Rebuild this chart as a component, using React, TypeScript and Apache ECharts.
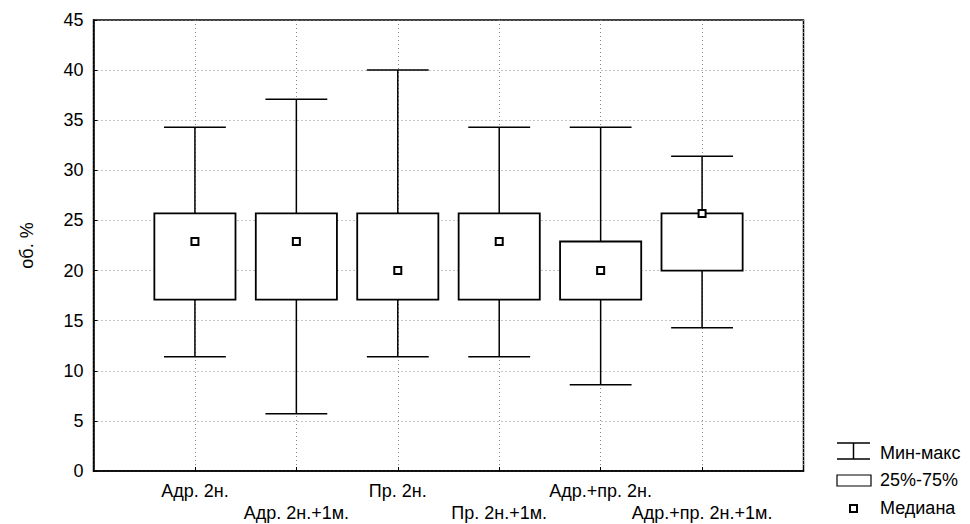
import React, { useEffect, useRef } from "react";
import * as echarts from "echarts";

const categories = [
  "Адр. 2н.",
  "Адр. 2н.+1м.",
  "Пр. 2н.",
  "Пр. 2н.+1м.",
  "Адр.+пр. 2н.",
  "Адр.+пр. 2н.+1м.",
];
const minValues = [11.4, 5.7, 11.4, 11.4, 8.6, 14.3];
const q1Values = [17.1, 17.1, 17.1, 17.1, 17.1, 20.0];
const medianValues = [22.9, 22.9, 20.0, 22.9, 20.0, 25.7];
const q3Values = [25.7, 25.7, 25.7, 25.7, 22.9, 25.7];
const maxValues = [34.3, 37.1, 40.0, 34.3, 34.3, 31.4];
const yTicks = [0, 5, 10, 15, 20, 25, 30, 35, 40, 45];
const legendLabels = ["Мин-макс", "25%-75%", "Медиана"];
const yAxisTitle = "об. %";

const FONT = "'Liberation Sans', Arial, sans-serif";

export default function App() {
  const ref = useRef<HTMLDivElement>(null);

  useEffect(() => {
    document.body.style.margin = "0";
    const chart = echarts.init(ref.current!, null, { renderer: "svg" });
    const axisCats = ["", ...categories, ""];
    const boxData = categories.map((c, i) => [
      i + 1,
      minValues[i],
      q1Values[i],
      medianValues[i],
      q3Values[i],
      maxValues[i],
    ]);
    const medData = categories.map((c, i) => [i + 1, medianValues[i]]);
    const stroke = { stroke: "#000", lineWidth: 1.5, fill: "none" };

    const lx = 837;
    const legendGraphics: any[] = [
      { type: "line", shape: { x1: lx, y1: 443, x2: lx + 33, y2: 443 }, style: stroke },
      { type: "line", shape: { x1: lx + 16.5, y1: 443, x2: lx + 16.5, y2: 459 }, style: stroke },
      { type: "line", shape: { x1: lx, y1: 459, x2: lx + 33, y2: 459 }, style: stroke },
      { type: "rect", shape: { x: lx, y: 475, width: 34, height: 11 }, style: { fill: "#fff", stroke: "#000", lineWidth: 1.2 } },
      { type: "rect", shape: { x: lx + 13, y: 505, width: 7, height: 7 }, style: { fill: "#fff", stroke: "#000", lineWidth: 2 } },
    ];
    [453, 480, 508].forEach((y, i) => {
      legendGraphics.push({
        type: "text",
        x: 880,
        y,
        style: {
          text: legendLabels[i],
          font: `18px ${FONT}`,
          fill: "#000",
          verticalAlign: "middle",
          align: "left",
        },
      });
    });

    chart.setOption({
      animation: false,
      backgroundColor: "#fff",
      grid: {
        left: 93.5,
        right: 166.5,
        top: 20,
        bottom: 51,
        show: true,
        borderColor: "#000",
        borderWidth: 1.5,
        backgroundColor: "#fff",
      },
      xAxis: {
        type: "category",
        data: axisCats,
        boundaryGap: false,
        axisLine: { lineStyle: { color: "#000", width: 1.5 } },
        axisTick: { inside: true, length: 4, lineStyle: { color: "#000" }, interval: 0 },
        splitLine: { show: true, interval: 0, lineStyle: { color: "#888", type: [1, 3], width: 1 } },
        axisLabel: {
          interval: 0,
          margin: 9,
          lineHeight: 22,
          fontSize: 18,
          fontFamily: FONT,
          color: "#000",
          formatter: (v: string, i: number) => {
            if (!v) return "";
            return i % 2 === 1 ? v : "\n" + v;
          },
        },
      },
      yAxis: {
        type: "value",
        min: 0,
        max: 45,
        interval: 5,
        name: yAxisTitle,
        nameLocation: "middle",
        nameGap: 58,
        nameRotate: 90,
        nameTextStyle: { fontSize: 18, fontFamily: FONT, color: "#000" },
        axisLine: { show: true, lineStyle: { color: "#000", width: 1.5 } },
        axisTick: { show: true, inside: true, length: 4, lineStyle: { color: "#000" } },
        splitLine: { show: true, lineStyle: { color: "#888", type: [1, 3], width: 1 } },
        axisLabel: {
          margin: 10,
          fontSize: 18,
          fontFamily: FONT,
          color: "#000",
          formatter: (v: number) => (yTicks.includes(v) ? String(v) : ""),
        },
      },
      series: [
        {
          type: "custom",
          data: boxData,
          encode: { x: 0, y: [1, 2, 3, 4, 5] },
          renderItem: (params: any, api: any) => {
            const x = api.value(0);
            const lo = api.coord([x, api.value(1)]);
            const q1 = api.coord([x, api.value(2)]);
            const q3 = api.coord([x, api.value(4)]);
            const hi = api.coord([x, api.value(5)]);
            const band = api.size([1, 0])[0];
            const boxW = band * 0.8;
            const capW = band * 0.61;
            const cx = lo[0];
            const ls = { stroke: "#000", lineWidth: 1.5 };
            return {
              type: "group",
              children: [
                { type: "line", shape: { x1: cx, y1: hi[1], x2: cx, y2: q3[1] }, style: ls },
                { type: "line", shape: { x1: cx, y1: q1[1], x2: cx, y2: lo[1] }, style: ls },
                { type: "line", shape: { x1: cx - capW / 2, y1: hi[1], x2: cx + capW / 2, y2: hi[1] }, style: ls },
                { type: "line", shape: { x1: cx - capW / 2, y1: lo[1], x2: cx + capW / 2, y2: lo[1] }, style: ls },
                {
                  type: "rect",
                  shape: { x: cx - boxW / 2, y: q3[1], width: boxW, height: q1[1] - q3[1] },
                  style: { fill: "#fff", stroke: "#000", lineWidth: 1.8 },
                },
              ],
            };
          },
          z: 2,
        },
        {
          type: "scatter",
          data: medData,
          symbol: "rect",
          symbolSize: 7,
          itemStyle: { color: "#fff", borderColor: "#000", borderWidth: 2, opacity: 1 },
          z: 5,
        },
      ],
      graphic: legendGraphics,
    });
    return () => chart.dispose();
  }, []);

  return (
    <div
      ref={ref}
      style={{ position: "fixed", left: 0, top: 0, width: 970, height: 524 }}
    />
  );
}
